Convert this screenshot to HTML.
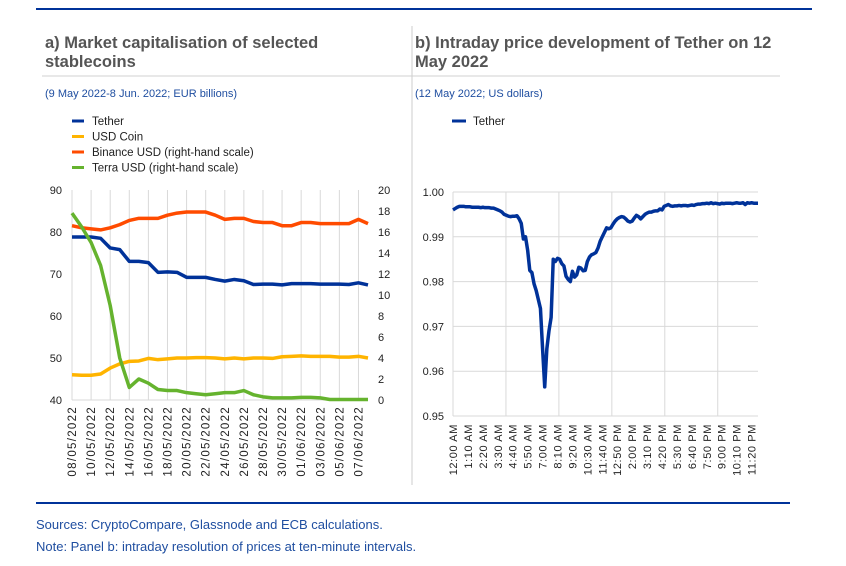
<!DOCTYPE html>
<html><head><meta charset="utf-8"><style>
body{margin:0;background:#fff;width:846px;height:561px;overflow:hidden;font-family:"Liberation Sans",sans-serif}
svg text{font-family:"Liberation Sans",sans-serif}
</style></head><body>
<svg id="s" width="846" height="561" xmlns="http://www.w3.org/2000/svg">
<line x1="36" y1="9" x2="812" y2="9" stroke="#003299" stroke-width="2"/>
<line x1="412" y1="26" x2="412" y2="485" stroke="#ccc"/>
<line x1="42" y1="76" x2="780" y2="76" stroke="#d0d0d0"/>
<text x="45" y="48" font-size="16.5" font-weight="bold" fill="#555">a) Market capitalisation of selected</text>
<text x="45" y="67" font-size="16.5" font-weight="bold" fill="#555">stablecoins</text>
<text x="415" y="48" font-size="16.5" font-weight="bold" fill="#555">b) Intraday price development of Tether on 12</text>
<text x="415" y="67" font-size="16.5" font-weight="bold" fill="#555">May 2022</text>
<text x="45" y="97" font-size="11" fill="#1f4ea0">(9 May 2022-8 Jun. 2022; EUR billions)</text>
<text x="415" y="97" font-size="11" fill="#1f4ea0">(12 May 2022; US dollars)</text>
<g id="legA"></g>
<g id="chartA"></g>
<g id="chartB"></g>
<line x1="36" y1="503" x2="790" y2="503" stroke="#003299" stroke-width="2"/>
<text x="36" y="529" font-size="13" fill="#1f4ea0">Sources: CryptoCompare, Glassnode and ECB calculations.</text>
<text x="36" y="551" font-size="13" fill="#1f4ea0">Note: Panel b: intraday resolution of prices at ten-minute intervals.</text>
</svg>
<script>
const dayLabels=["08/05/2022","10/05/2022","12/05/2022","14/05/2022","16/05/2022","18/05/2022","20/05/2022","22/05/2022","24/05/2022","26/05/2022","28/05/2022","30/05/2022","01/06/2022","03/06/2022","05/06/2022","07/06/2022"];
const tether=[78.8,78.8,78.8,78.5,76.2,75.8,73,73,72.7,70.4,70.5,70.4,69.2,69.2,69.2,68.7,68.3,68.7,68.4,67.5,67.6,67.6,67.4,67.7,67.7,67.7,67.6,67.6,67.6,67.5,67.9,67.4];
const usdCoin=[46,45.9,45.9,46.2,47.6,48.6,49.2,49.3,49.9,49.6,49.8,50,50,50.1,50.1,50,49.8,50,49.8,50,50,49.9,50.3,50.4,50.5,50.4,50.4,50.4,50.2,50.2,50.4,50];
const binance=[16.6,16.4,16.3,16.2,16.4,16.7,17.1,17.3,17.3,17.3,17.6,17.8,17.9,17.9,17.9,17.6,17.2,17.3,17.3,17.0,16.9,16.9,16.6,16.6,16.9,16.9,16.8,16.8,16.8,16.8,17.2,16.8];
const terra=[17.8,16.5,15,12.8,9,4,1.2,2,1.6,1,0.9,0.9,0.7,0.6,0.5,0.6,0.7,0.7,0.9,0.5,0.3,0.2,0.2,0.2,0.25,0.25,0.2,0.05,0.05,0.05,0.05,0.05];
const leftTicks=[40,50,60,70,80,90];
const rightTicks=[0,2,4,6,8,10,12,14,16,18,20];
const timeLabels=["12:00 AM","1:10 AM","2:20 AM","3:30 AM","4:40 AM","5:50 AM","7:00 AM","8:10 AM","9:20 AM","10:30 AM","11:40 AM","12:50 PM","2:00 PM","3:10 PM","4:20 PM","5:30 PM","6:40 PM","7:50 PM","9:00 PM","10:10 PM","11:20 PM"];
const priceTicks=[0.95,0.96,0.97,0.98,0.99,1.00];
const price=[0.9960,0.9963,0.9966,0.9968,0.9968,0.9968,0.9967,0.9967,0.9967,0.9966,0.9966,0.9966,0.9966,0.9965,0.9966,0.9965,0.9965,0.9965,0.9964,0.9964,0.9962,0.9960,0.9958,0.9955,0.9950,0.9948,0.9946,0.9945,0.9946,0.9946,0.9947,0.9940,0.9930,0.9895,0.9900,0.9870,0.9825,0.9820,0.9795,0.9780,0.9760,0.9740,0.9650,0.9565,0.9650,0.9690,0.9720,0.9850,0.9845,0.9852,0.9850,0.9840,0.9835,0.9812,0.9805,0.9800,0.9823,0.9810,0.9815,0.9832,0.9830,0.9824,0.9825,0.9845,0.9855,0.9860,0.9862,0.9865,0.9875,0.9890,0.9900,0.9910,0.9920,0.9918,0.9920,0.9928,0.9935,0.9940,0.9943,0.9945,0.9944,0.9940,0.9935,0.9933,0.9935,0.9942,0.9948,0.9945,0.9940,0.9945,0.9950,0.9953,0.9955,0.9955,0.9957,0.9958,0.9958,0.9962,0.9960,0.9968,0.9970,0.9972,0.9969,0.9968,0.9969,0.9969,0.9970,0.9969,0.9970,0.9970,0.9969,0.9970,0.9971,0.9970,0.9972,0.9973,0.9973,0.9974,0.9974,0.9975,0.9974,0.9976,0.9974,0.9975,0.9974,0.9973,0.9975,0.9974,0.9975,0.9975,0.9975,0.9974,0.9975,0.9976,0.9975,0.9975,0.9976,0.9972,0.9976,0.9975,0.9976,0.9975,0.9975,0.9975];
const NS="http://www.w3.org/2000/svg";
function mk(tag,attrs,parent,txt){const e=document.createElementNS(NS,tag);for(const k in attrs)e.setAttribute(k,attrs[k]);if(txt!==undefined)e.textContent=txt;parent.appendChild(e);return e;}
const leg=document.getElementById('legA');
const legItems=[["Tether","#003299"],["USD Coin","#ffb400"],["Binance USD (right-hand scale)","#ff4b00"],["Terra USD (right-hand scale)","#65b32e"]];
legItems.forEach((it,i)=>{const y=121+i*15.5;
const l=mk('line',{x1:72,y1:y,x2:84,y2:y,stroke:it[1],'stroke-width':3},leg);


const t=mk('text',{x:92,y:y+4,'font-size':11.5,fill:'#222'},leg,it[0]);

});
const A=document.getElementById('chartA');
const ax0=72,ax1=368,ay0=400,ay1=190;
const xA=i=>ax0+(ax1-ax0)*i/(tether.length-1);
const yL=v=>ay0-(v-40)/50*(ay0-ay1);
const yR=v=>ay0-v/20*(ay0-ay1);
for(let i=0;i<tether.length;i+=2){const g=mk('line',{x1:xA(i),y1:ay1,x2:xA(i),y2:ay0,stroke:'#d9d9d9'},A);

}
leftTicks.forEach(v=>{const t=mk('text',{x:62,y:yL(v)+4,'font-size':11,fill:'#222','text-anchor':'end'},A,v);

});
rightTicks.forEach(v=>{const t=mk('text',{x:378,y:yR(v)+4,'font-size':11,fill:'#222'},A,v);

});
dayLabels.forEach((d,k)=>{const x=xA(k*2)+4;const t=mk('text',{x:x,y:406,'font-size':11.5,fill:'#222','text-anchor':'end','letter-spacing':'1.3',transform:`rotate(-90 ${x} 406)`},A,d);

});
const ax=mk('line',{x1:ax0,y1:ay0,x2:ax1,y2:ay0,stroke:'#d9d9d9'},A);


function series(arr,yf,col,name,parent,xf){const p=mk('polyline',{points:arr.map((v,i)=>xf(i)+','+yf(v)).join(' '),fill:'none',stroke:col,'stroke-width':3.5,'stroke-linejoin':'round'},parent);

}
series(usdCoin,yL,'#ffb400','usd-coin-line',A,xA);
series(binance,yR,'#ff4b00','binance-usd-line',A,xA);
series(tether,yL,'#003299','tether-line',A,xA);
series(terra,yR,'#65b32e','terra-usd-line',A,xA);
const lb=mk('line',{x1:452,y1:121,x2:466,y2:121,stroke:'#003299','stroke-width':3},A);


const lt=mk('text',{x:473,y:125,'font-size':11.5,fill:'#222'},A,'Tether');


const B=document.getElementById('chartB');
const bx0=453,bx1=758,by0=416,by1=192;
const xB=i=>bx0+(bx1-bx0)*i/(price.length-1);
const yB=v=>by0-(v-0.95)/0.05*(by0-by1);
priceTicks.forEach(v=>{const g=mk('line',{x1:bx0,y1:yB(v),x2:bx1,y2:yB(v),stroke:'#d9d9d9'},B);


const t=mk('text',{x:444,y:yB(v)+4,'font-size':11,fill:'#222','text-anchor':'end'},B,v.toFixed(2));

});
for(let k=0;k<=5;k++){const x=bx0+(bx1-bx0)*k*250/1440;const g=mk('line',{x1:x,y1:by1,x2:x,y2:by0,stroke:'#d9d9d9'},B);

}
timeLabels.forEach((d,k)=>{const x=xB(k*7)+4;const t=mk('text',{x:x,y:424,'font-size':11,fill:'#222','text-anchor':'end','letter-spacing':'0.6',transform:`rotate(-90 ${x} 424)`},B,d);

});
series(price,yB,'#003299','tether-price-line',B,xB);
</script>
</body></html>
